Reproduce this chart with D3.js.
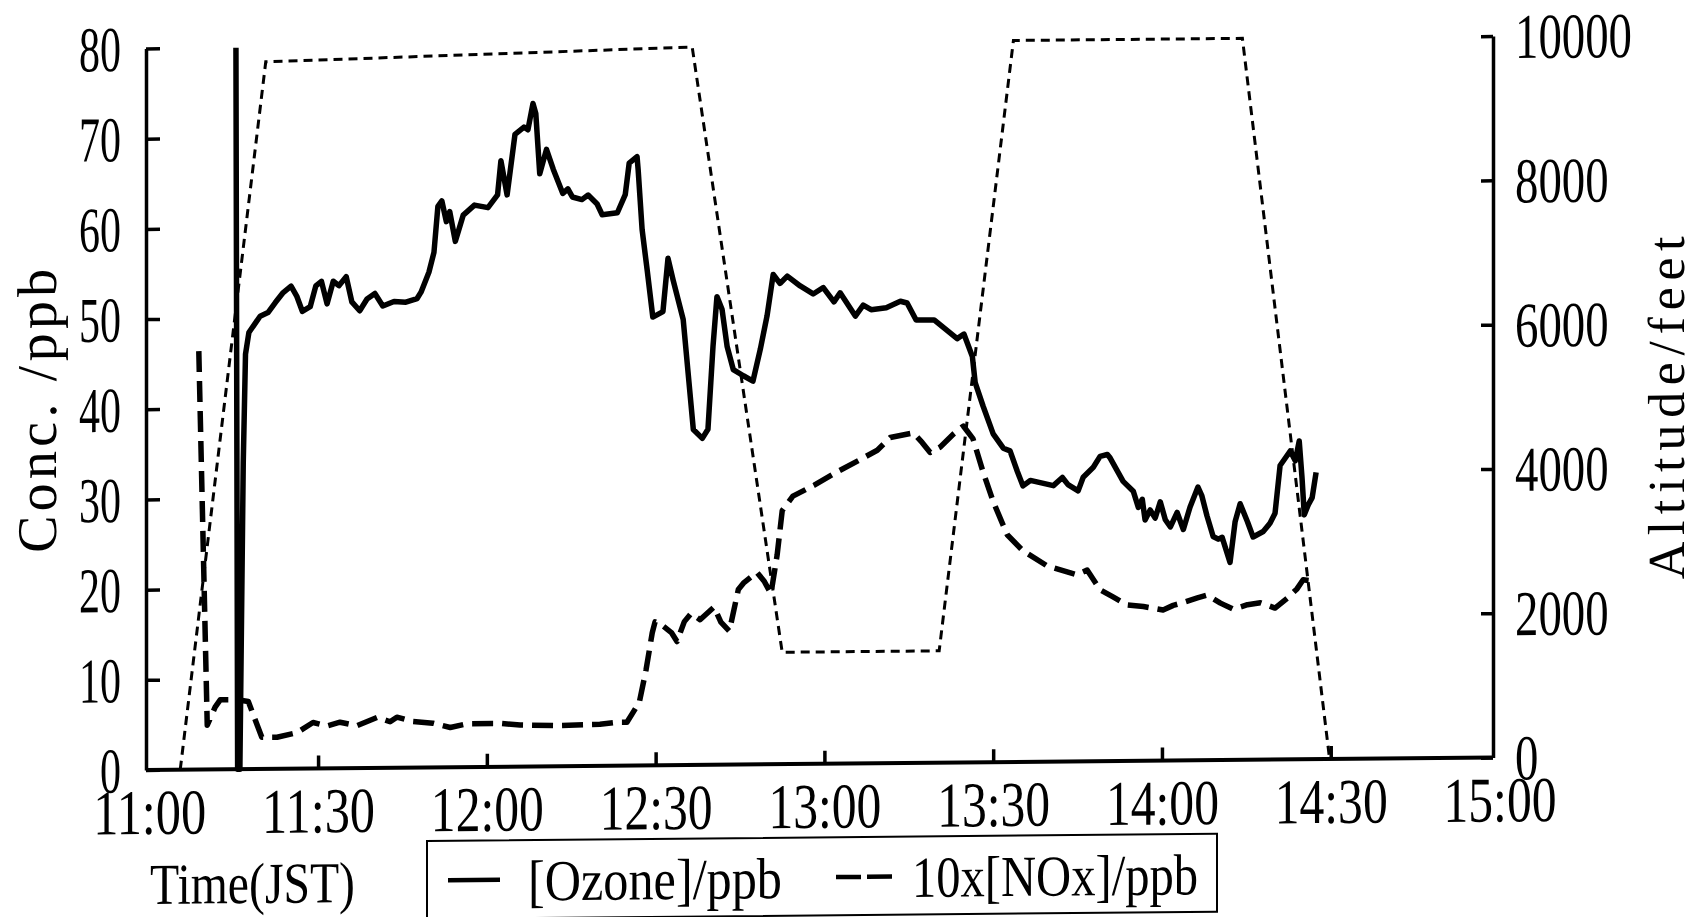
<!DOCTYPE html>
<html lang="en">
<head>
<meta charset="UTF-8">
<title>Ozone, NOx and altitude</title>
<script src="https://cdnjs.cloudflare.com/ajax/libs/d3/7.8.5/d3.min.js"></script>
<style>
  body { margin: 0; background: #fff; }
  svg { display: block; }
  text { font-family: "Liberation Serif", "DejaVu Serif", serif; fill: #000; }
  .axis path, .axis line { stroke: #000; stroke-width: 3.5px; }
</style>
</head>
<body>
<svg width="1696" height="917"></svg>
<script>
// minutes after 11:00 JST, value
const ozone = [
  [15.4, 80], [15.7, 0], [16.1, 0], [16.7, 34], [17.1, 46], [17.7, 48.4], [19.7, 50.2], [21.1, 50.6],
  [22.4, 51.7], [23.8, 52.8], [25.2, 53.5], [26.2, 52.4], [27.2, 50.7], [28.6, 51.2], [29.6, 53.5],
  [30.6, 54], [31.6, 51.5], [32.7, 54], [33.7, 53.5], [35.0, 54.5], [36.0, 51.7], [37.4, 50.7],
  [38.7, 52], [40.1, 52.6], [41.5, 51.2], [43.5, 51.7], [45.6, 51.6], [47.6, 52], [48.3, 52.7],
  [49.7, 54.9], [50.6, 57.1], [51.3, 62.2], [52.0, 62.8], [52.8, 60.5], [53.4, 61.6], [54.4, 58.3],
  [55.8, 61.2], [57.8, 62.3], [60.2, 62], [61.9, 63.4], [62.5, 67.2], [63.6, 63.4], [65.0, 70.1],
  [66.6, 70.9], [67.3, 70.6], [68.2, 73.5], [68.7, 72.4], [69.4, 65.7], [70.6, 68.4], [71.8, 66.2],
  [73.5, 63.5], [74.4, 64], [75.2, 63.1], [76.9, 62.8], [78.0, 63.3], [79.6, 62.3], [80.5, 61.1],
  [83.2, 61.3], [84.6, 63.3], [85.3, 66.8], [86.7, 67.5], [86.9, 66], [87.6, 59.4], [88.5, 54.9],
  [89.5, 49.7], [91.3, 50.3], [92.2, 56.2], [93.1, 53.8], [94.9, 49.4], [96.7, 37.2], [98.3, 36.2],
  [99.3, 37.2], [100.2, 46.4], [100.9, 51.9], [101.8, 50.5], [102.7, 46.4], [103.8, 43.8],
  [105.6, 43.1], [107.3, 42.5], [108.6, 46], [109.8, 49.7], [110.9, 54.3], [112.1, 53.3],
  [113.4, 54.1], [115.7, 53], [118.0, 52.1], [119.8, 52.8], [121.7, 51.2], [122.8, 52.2],
  [125.5, 49.6], [126.9, 50.8], [128.3, 50.3], [131.0, 50.5], [133.5, 51.2], [134.7, 51],
  [136.3, 49.1], [139.5, 49.1], [143.6, 47], [144.8, 47.5], [146.3, 45], [146.8, 42.1],
  [148.2, 39.5], [150.0, 36.4], [151.8, 34.8], [153.0, 34.5], [154.3, 32.2], [155.3, 30.6],
  [156.6, 31.2], [160.7, 30.6], [162.3, 31.5], [163.3, 30.7], [165.1, 30], [166.0, 31.5],
  [167.8, 32.6], [169.0, 33.8], [170.3, 34], [170.8, 33.6], [173.1, 31], [174.9, 29.9],
  [175.8, 28.1], [176.5, 29], [177.0, 26.7], [177.9, 27.8], [178.8, 26.9], [179.7, 28.7],
  [180.6, 26.7], [181.5, 25.9], [182.7, 27.5], [183.8, 25.6], [185.0, 28.1], [186.4, 30.3],
  [187.1, 29.3], [188.0, 27.1], [189.1, 24.8], [190.0, 24.5], [190.7, 24.7], [192.1, 21.9],
  [193.0, 26.4], [193.9, 28.4], [195.2, 26.4], [196.2, 24.7], [198.0, 25.3], [199.2, 26.2],
  [200.1, 27.3], [201.0, 32.6], [201.9, 33.4], [202.8, 34.2], [203.7, 33.1], [204.4, 35.3],
  [204.9, 31.2], [205.3, 27.1], [206.0, 28.2], [206.7, 29], [207.4, 31.8]
];

// 10 x [NOx] in ppb
const nox10 = [
  [8.8, 46.4], [10.3, 4.9], [11.7, 6.9], [12.6, 7.7], [15.6, 7.7], [17.6, 7.5], [18.8, 5.5],
  [20.0, 3.5], [22.7, 3.5], [26.3, 4], [29.1, 5.1], [31.6, 4.7], [33.9, 5.1], [36.9, 4.7],
  [40.5, 5.6], [42.8, 5.1], [44.0, 5.6], [46.9, 5.1], [50.4, 4.9], [53.5, 4.4], [56.5, 4.8],
  [62.4, 4.8], [65.9, 4.6], [73.0, 4.5], [80.1, 4.6], [83.0, 4.8], [84.9, 4.8], [87.1, 7],
  [88.3, 10.6], [89.4, 14.7], [89.9, 15.9], [91.0, 15.6], [92.8, 14.7], [93.8, 13.7], [95.1, 15.9],
  [96.3, 16.8], [97.9, 16.1], [100.4, 17.5], [101.6, 15.8], [103.1, 14.8], [104.7, 19.4],
  [105.6, 20.1], [108.0, 21.3], [109.3, 20.3], [110.5, 18.9], [111.6, 23.2], [112.5, 28.1],
  [114.4, 29.7], [118.2, 30.9], [122.1, 32.3], [126.4, 33.7], [129.4, 34.7], [131.7, 36.1],
  [135.8, 36.6], [137.4, 35.5], [138.8, 34.4], [140.6, 35], [142.9, 36.4], [144.7, 37.3],
  [146.4, 35.9], [148.2, 32.2], [150.0, 28.9], [152.5, 25.2], [155.3, 23.4], [159.6, 21.7],
  [164.9, 20.7], [166.7, 21.2], [169.0, 19], [171.3, 18.2], [173.8, 17.3], [176.7, 17.1],
  [180.2, 16.7], [182.0, 17.2], [183.8, 17.5], [186.3, 18], [188.0, 18.3], [190.4, 17.4],
  [192.7, 16.7], [195.2, 17.2], [197.5, 17.4], [200.1, 16.8], [202.3, 17.9], [204.0, 18.9],
  [205.1, 19.9], [206.4, 19.8]
];

// altitude in feet
const altitude = [
  [5.5, 0], [20.7, 9800], [96.5, 9950], [112.5, 1550], [140.4, 1550],
  [153.6, 10000], [194.3, 10000], [209.8, 0]
];

const timeTicks = ["11:00", "11:30", "12:00", "12:30", "13:00", "13:30", "14:00", "14:30", "15:00"];
const concTicks = [0, 10, 20, 30, 40, 50, 60, 70, 80];
const altTicks = [0, 2000, 4000, 6000, 8000, 10000];

const svg = d3.select("svg");
const plotLeft = 146, plotRight = 1493, plotBottom = 770, plotTop = 48.5;

// the scanned figure is slightly sheared; reproduce it
const g = svg.append("g")
  .attr("transform", `translate(${plotLeft},0) skewY(-0.53) translate(${-plotLeft},0)`);

const parse = d3.timeParse("%H:%M");
const t0 = parse("11:00");
const toDate = m => new Date(t0.getTime() + m * 60000);
const fmt = d3.timeFormat("%H:%M");

const x = d3.scaleTime().domain([parse("11:00"), parse("15:00")]).range([149.3, 1499.5]);
const y = d3.scaleLinear().domain([0, 80]).range([plotBottom, plotTop]);
const yAlt = d3.scaleLinear().domain([0, 10000]).range([plotBottom, plotTop]);

// x axis
const xAxis = g.append("g").attr("class", "axis")
  .attr("transform", `translate(0,${plotBottom})`)
  .call(d3.axisBottom(x).tickValues(timeTicks.map(parse))
    .tickFormat(fmt).tickSize(-13).tickSizeOuter(0));
xAxis.select(".domain").remove();
xAxis.selectAll(".tick").filter((d, i) => i === 0 || i === timeTicks.length - 1)
  .select("line").remove();
xAxis.selectAll("text")
  .attr("y", 64).attr("dy", null)
  .style("font-size", "64px")
  .attr("textLength", d => fmt(d).length * 22.6)
  .attr("lengthAdjust", "spacingAndGlyphs");

g.append("line")
  .attr("x1", plotLeft).attr("x2", plotRight).attr("y1", plotBottom).attr("y2", plotBottom)
  .attr("stroke", "#000").attr("stroke-width", 4);

// left axis
const yAxis = g.append("g").attr("class", "axis")
  .attr("transform", `translate(${plotLeft},0)`)
  .call(d3.axisLeft(y).tickValues(concTicks).tickSize(-14).tickSizeOuter(0).tickPadding(25));
yAxis.selectAll("text")
  .style("font-size", "64px")
  .attr("dy", "0.34em")
  .attr("textLength", d => String(d).length * 21)
  .attr("lengthAdjust", "spacingAndGlyphs");

// right axis
const aAxis = g.append("g").attr("class", "axis")
  .attr("transform", `translate(${plotRight},0)`)
  .call(d3.axisRight(yAlt).tickValues(altTicks).tickFormat(d3.format("d"))
    .tickSize(-12).tickSizeOuter(0).tickPadding(22));
aAxis.selectAll("text")
  .style("font-size", "64px")
  .attr("dy", "0.34em")
  .attr("textLength", d => String(d).length * 23.4)
  .attr("lengthAdjust", "spacingAndGlyphs");

// series
const line = d3.line().x(d => x(toDate(d[0]))).y(d => y(d[1]));
const altLine = d3.line().x(d => x(toDate(d[0]))).y(d => yAlt(d[1]));

g.append("path").datum(altitude)
  .attr("d", altLine)
  .attr("fill", "none").attr("stroke", "#000")
  .attr("stroke-width", 3).attr("stroke-dasharray", "9,6");

g.append("path").datum(nox10)
  .attr("d", line)
  .attr("fill", "none").attr("stroke", "#000")
  .attr("stroke-width", 5.5).attr("stroke-dasharray", "21,9")
  .attr("stroke-linejoin", "round");

g.append("path").datum(ozone)
  .attr("d", line)
  .attr("fill", "none").attr("stroke", "#000")
  .attr("stroke-width", 5.5).attr("stroke-linejoin", "round");

// axis titles
g.append("text")
  .attr("transform", "translate(56,410) rotate(-90)")
  .attr("text-anchor", "middle")
  .style("font-size", "56px")
  .attr("textLength", 284).attr("lengthAdjust", "spacing")
  .text("Conc. /ppb");

g.append("text")
  .attr("transform", "translate(1684,422) rotate(-90)")
  .attr("text-anchor", "middle")
  .style("font-size", "52px")
  .attr("textLength", 343).attr("lengthAdjust", "spacing")
  .text("Altitude/feet");

g.append("text")
  .attr("x", 150).attr("y", 904)
  .style("font-size", "58px")
  .attr("textLength", 205).attr("lengthAdjust", "spacingAndGlyphs")
  .text("Time(JST)");

// legend
const lg = g.append("g");
lg.append("rect")
  .attr("x", 427).attr("y", 843.6).attr("width", 790).attr("height", 78)
  .attr("fill", "none").attr("stroke", "#000").attr("stroke-width", 2);
lg.append("line")
  .attr("x1", 448).attr("x2", 500).attr("y1", 883).attr("y2", 883)
  .attr("stroke", "#000").attr("stroke-width", 4.5);
lg.append("text")
  .attr("x", 528).attr("y", 904)
  .style("font-size", "58px")
  .attr("textLength", 254).attr("lengthAdjust", "spacingAndGlyphs")
  .text("[Ozone]/ppb");
lg.append("line")
  .attr("x1", 836).attr("x2", 892).attr("y1", 883.5).attr("y2", 883.5)
  .attr("stroke", "#000").attr("stroke-width", 4.5).attr("stroke-dasharray", "25,6");
lg.append("text")
  .attr("x", 912).attr("y", 904)
  .style("font-size", "58px")
  .attr("textLength", 286).attr("lengthAdjust", "spacingAndGlyphs")
  .text("10x[NOx]/ppb");
</script>
</body>
</html>
